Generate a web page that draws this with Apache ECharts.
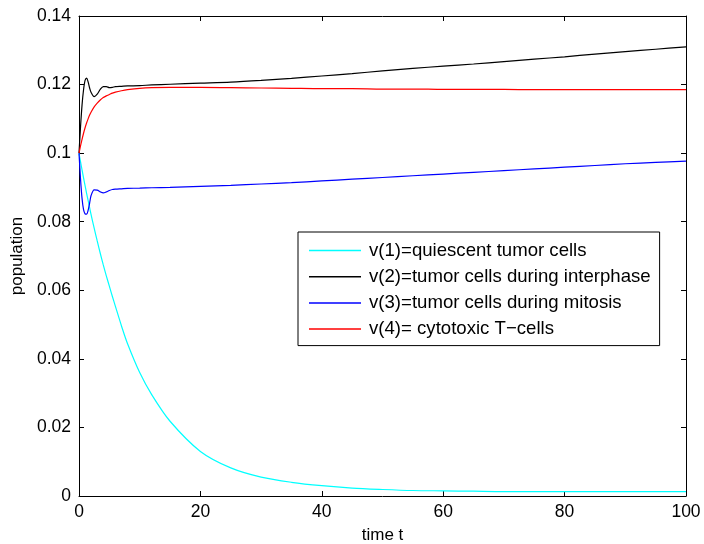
<!DOCTYPE html>
<html>
<head>
<meta charset="utf-8">
<script src="https://cdn.jsdelivr.net/npm/echarts@6/dist/echarts.min.js"></script>
<style>
html,body{margin:0;padding:0;background:#fff;}
#chart{width:704px;height:544px;}
</style>
</head>
<body>
<div id="chart"></div>
<script>
// time points
var time = [0, 0.25, 0.5, 0.75, 1, 1.25, 1.5, 1.75, 2, 2.5, 3, 3.5, 4, 4.5, 5, 5.5, 6, 7, 8, 10, 12, 15, 20, 25, 30, 35, 40, 45, 50, 55, 60, 65, 70, 75, 80, 85, 90, 95, 100];
// v(1) quiescent tumor cells
var v1 = [0.1, 0.0975, 0.0951, 0.0928, 0.0905, 0.0883, 0.0862, 0.0841, 0.0820, 0.0781, 0.0744, 0.0708, 0.0674, 0.0642, 0.0612, 0.0582, 0.0553, 0.0496, 0.0444, 0.0360, 0.0295, 0.0218, 0.0130, 0.0082, 0.0055, 0.0040, 0.0030, 0.0023, 0.0019, 0.0016, 0.0015, 0.0014, 0.0013, 0.0013, 0.0013, 0.0013, 0.0013, 0.0013, 0.0013];
// v(2) tumor cells during interphase
var v2 = [0.1, 0.1076, 0.1140, 0.1185, 0.1212, 0.1219, 0.1208, 0.1190, 0.1177, 0.1165, 0.1172, 0.1186, 0.1194, 0.1194, 0.1191, 0.1192, 0.1194, 0.1195, 0.1196, 0.1197, 0.1199, 0.1201, 0.1204, 0.1207, 0.1212, 0.1218, 0.1225, 0.1232, 0.1240, 0.1247, 0.1254, 0.1260, 0.1267, 0.1274, 0.1281, 0.1289, 0.1296, 0.1303, 0.1310];
// v(3) tumor cells during mitosis
var v3 = [0.1, 0.0925, 0.0868, 0.0835, 0.0823, 0.0822, 0.0833, 0.0854, 0.0877, 0.0893, 0.0892, 0.0887, 0.0884, 0.0887, 0.0891, 0.0894, 0.0895, 0.0896, 0.0897, 0.0898, 0.0899, 0.0900, 0.0903, 0.0906, 0.0910, 0.0914, 0.0919, 0.0924, 0.0929, 0.0934, 0.0939, 0.0944, 0.0949, 0.0954, 0.0959, 0.0964, 0.0969, 0.0973, 0.0977];
// v(4) cytotoxic T-cells
var v4 = [0.1, 0.1021, 0.1040, 0.1058, 0.1074, 0.1088, 0.1100, 0.1111, 0.1120, 0.1135, 0.1146, 0.1155, 0.1162, 0.1167, 0.1171, 0.1175, 0.1178, 0.1182, 0.1185, 0.1189, 0.1191, 0.1192, 0.1192, 0.1191, 0.1190, 0.1189, 0.1188, 0.1188, 0.1187, 0.1187, 0.1186, 0.1186, 0.1186, 0.1185, 0.1185, 0.1185, 0.1185, 0.1185, 0.1185];

var seriesNames = ['v(1)=quiescent tumor cells', 'v(2)=tumor cells during interphase', 'v(3)=tumor cells during mitosis', 'v(4)= cytotoxic T\u2212cells'];
var seriesColors = ['#00ffff', '#000000', '#0000ff', '#ff0000'];
var seriesValues = [v1, v2, v3, v4];

function pairs(vals) { return time.map(function (t, i) { return [t, vals[i]]; }); }

var font = 'Liberation Sans, Arial, Helvetica, sans-serif';
var chart = echarts.init(document.getElementById('chart'), null, {renderer: 'canvas'});

function axisCommon() {
  return {
    axisLine: {show: true, onZero: false, lineStyle: {color: '#000', width: 1}},
    axisTick: {show: true, inside: true, length: 5, lineStyle: {color: '#000'}},
    splitLine: {show: false}
  };
}

chart.setOption({
  backgroundColor: '#fff',
  animation: false,
  grid: {left: 79, right: 18, top: 16, bottom: 48, containLabel: false, outerBoundsMode: 'none'},
  legend: {
    orient: 'vertical',
    left: 298, top: 232,
    data: seriesNames,
    icon: 'rect',
    itemWidth: 52, itemHeight: 1.5,
    itemGap: 5.2,
    padding: [8, 9, 6, 11],
    borderColor: '#000', borderWidth: 1,
    backgroundColor: '#fff',
    textStyle: {fontFamily: font, fontSize: 18.6, color: '#000', lineHeight: 21, padding: [0, 0, 0, 3]}
  },
  xAxis: [
    Object.assign(axisCommon(), {
      type: 'value', min: 0, max: 100, interval: 20, position: 'bottom',
      name: 'time t', nameLocation: 'middle', nameGap: 31,
      nameTextStyle: {fontFamily: font, fontSize: 17, color: '#000'},
      axisLabel: {fontFamily: font, fontSize: 17.5, color: '#000', margin: 7}
    }),
    Object.assign(axisCommon(), {
      type: 'value', min: 0, max: 100, interval: 20, position: 'top',
      axisLabel: {show: false}
    })
  ],
  yAxis: [
    Object.assign(axisCommon(), {
      type: 'value', min: 0, max: 0.14, interval: 0.02, position: 'left',
      name: 'population', nameLocation: 'middle', nameGap: 51,
      nameTextStyle: {fontFamily: font, fontSize: 17, color: '#000'},
      axisLabel: {fontFamily: font, fontSize: 17.5, color: '#000', margin: 8}
    }),
    Object.assign(axisCommon(), {
      type: 'value', min: 0, max: 0.14, interval: 0.02, position: 'right',
      axisLabel: {show: false}
    })
  ],
  series: seriesNames.map(function (n, i) {
    return {
      name: n, type: 'line', xAxisIndex: 0, yAxisIndex: 0,
      data: pairs(seriesValues[i]),
      showSymbol: false, symbol: 'none', smooth: 0.3,
      lineStyle: {color: seriesColors[i], width: 1.2},
      itemStyle: {color: seriesColors[i]}
    };
  })
});
</script>
</body>
</html>
